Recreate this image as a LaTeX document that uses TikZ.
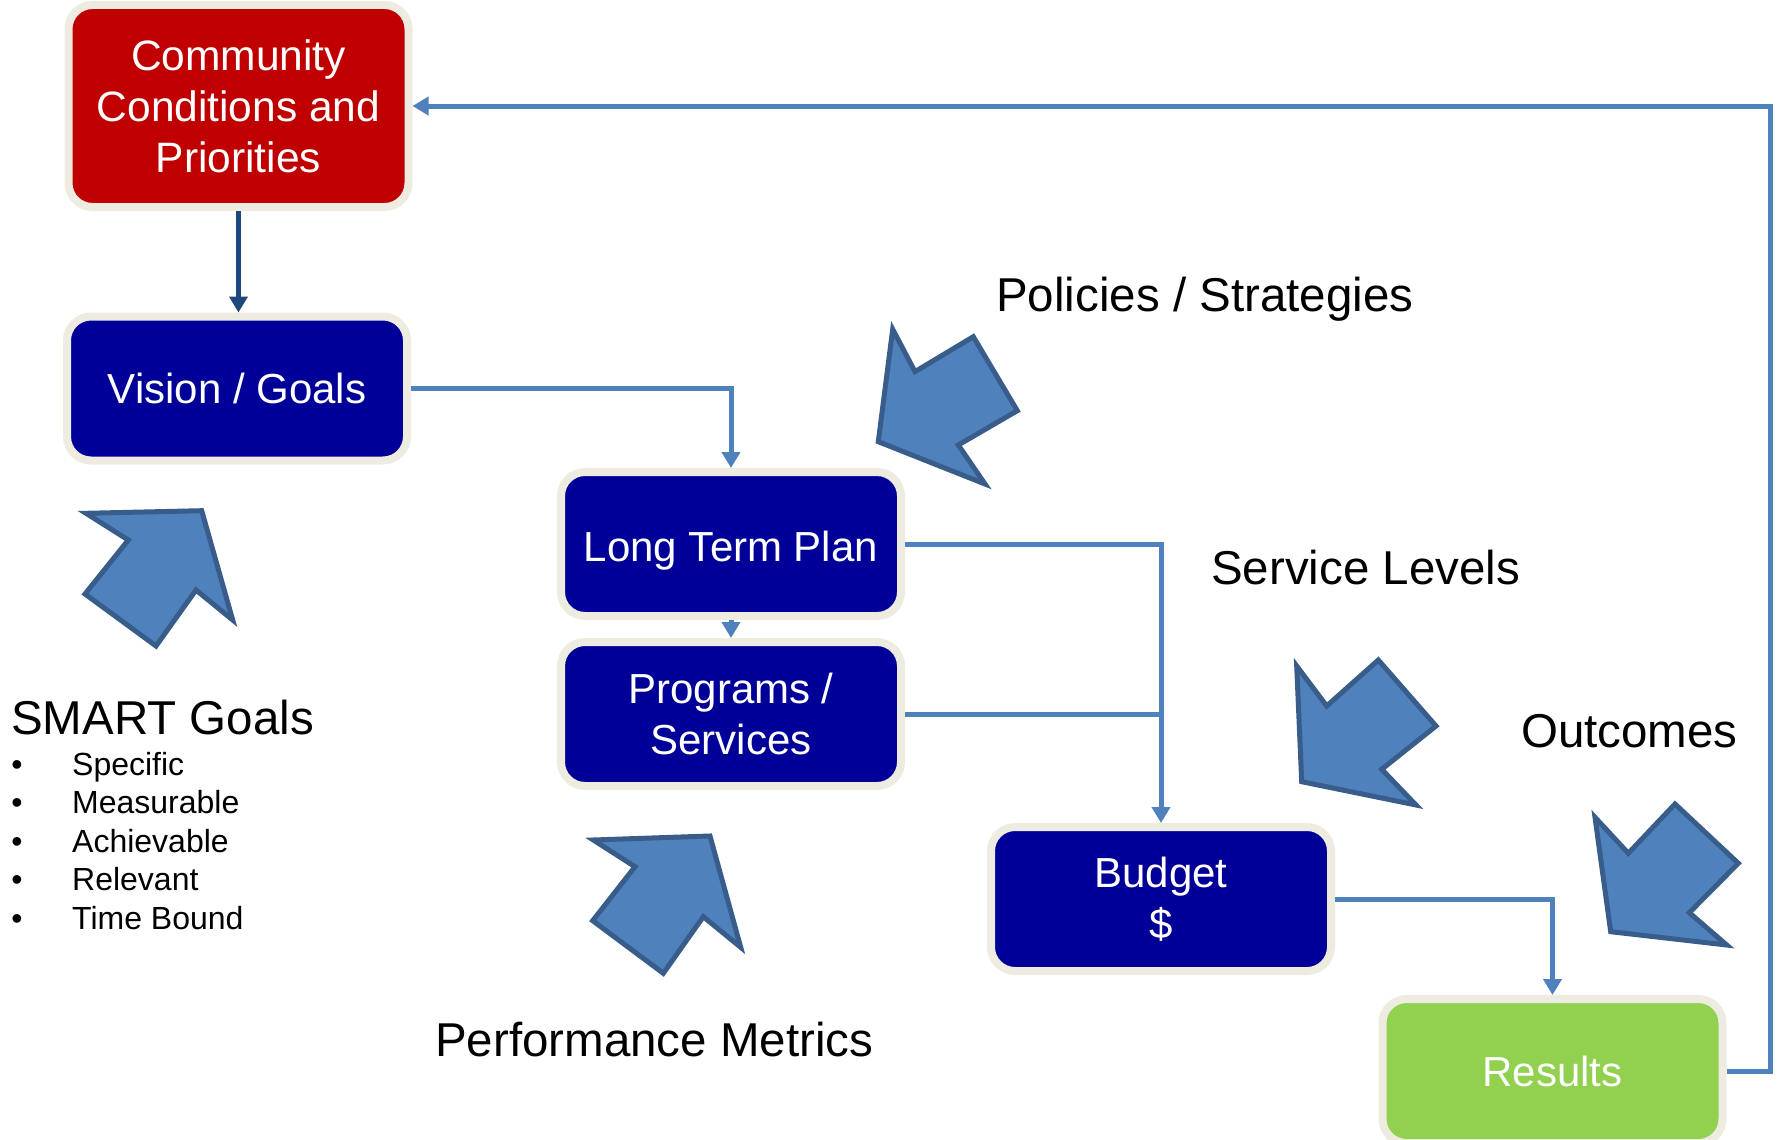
\documentclass[tikz,border=0pt]{standalone}
\usepackage{fontspec}
\setmainfont{Liberation Sans}
\usetikzlibrary{arrows.meta,positioning}

\definecolor{alarm}{HTML}{C00000}
\definecolor{navy}{HTML}{000099}
\definecolor{leaf}{HTML}{92D050}
\definecolor{rim}{HTML}{EEECE1}
\definecolor{flow}{HTML}{4F81BD}
\definecolor{deepflow}{HTML}{1F497D}
\definecolor{bigfill}{HTML}{4F81BD}
\definecolor{bigedge}{HTML}{385D8A}

\tikzset{
  stage/.style={draw=rim,line width=8pt,rounded corners=24pt,fill=navy,text=white,align=center,inner sep=0pt,minimum width=340pt,minimum height=144pt,font=\fontsize{42}{51}\selectfont},
  link/.style={draw=flow,line width=5pt},
  flowto/.style={link,-{Triangle[width=18pt,length=16pt]}},
  hint/.style={font=\fontsize{47.5}{57}\selectfont,anchor=base west,inner sep=0pt},
  item/.style={font=\fontsize{32}{38}\selectfont,inner sep=0pt},
  bigarrow/.style={fill=bigfill,draw=bigedge,line width=5pt},
}

\begin{document}
\begin{tikzpicture}[x=1pt,y=-1pt]
\path[fill=white,use as bounding box] (0,0) rectangle (1781,1140);

% boxes
\node [stage,fill=alarm,minimum height=202pt,font=\fontsize{42.5}{51}\selectfont] (comm) at (238.5,106) {Community\\Conditions and\\Priorities};
\node [stage] (vision) at (237,388.5) {Vision / Goals};
\node [stage,text depth=0pt] (ltp) at (731,544) {\raisebox{-4pt}{Long Term Plan}};
\node [stage,below=18pt of ltp] (prog) {Programs /\\Services};
\node [stage] (budget) at (1161,899) {Budget\\\$};
\node [stage,fill=leaf] (res) at (1552.5,1071) {Results};

% connectors
\draw [line width=5.5pt,draw=deepflow,-{Triangle[width=18pt,length=16pt]}] (comm.south) -- (comm.south |- vision.north);
\draw [flowto] (vision.east) -| (ltp.north);
\draw [flowto] (ltp.south) -- (prog.north);
\draw [flowto] (ltp.east) -| (budget.north);
\draw [link] (prog.east) -- (prog.east -| budget.north);
\draw [flowto] (budget.east) -| (res.north);
\coordinate (back) at (1770,1071);
\draw [flowto] (res.east) -- (back) |- (comm.east);

% labels
\node [hint] (policies) at (996,311) {Policies / Strategies};
\node [hint] (service) at (1211,584) {Service Levels};
\node [hint] (outcomes) at (1521,747) {Outcomes};
\node [hint] (metrics) at (435,1056) {Performance Metrics};
\node [hint] (smart) at (11,734) {SMART Goals};
\foreach \word [count=\i] in {Specific,Measurable,Achievable,Relevant,Time Bound} {
  \node [item,anchor=base] (dot\i) at (17,{736.4+38.6*\i}) {\textbullet};
  \node [item,anchor=base west] (item\i) at (72,{736.4+38.6*\i}) {\word};
}

% block arrows
\draw [bigarrow] (201.7,510.7) -- (232.7,620) -- (196,590) -- (156,646) -- (85,594) -- (128.3,540) -- (86,513.3) -- cycle;
\draw [bigarrow] (710,836) -- (740.7,947.3) -- (703.3,916.7) -- (663.3,973.3) -- (592.7,920.7) -- (635,866.7) -- (593.3,840) -- cycle;
\draw [bigarrow] (878.3,441.7) -- (892.7,329.3) -- (915,371.7) -- (973.3,336.7) -- (1017.3,410.7) -- (958.3,445) -- (985,484) -- cycle;
\draw [bigarrow] (1301.7,781.7) -- (1296.7,666) -- (1326.7,706) -- (1378.3,660) -- (1436,726) -- (1381.7,769.3) -- (1416,805) -- cycle;
\draw [bigarrow] (1610.7,931.7) -- (1595,817.3) -- (1628.3,853.3) -- (1675,804) -- (1738.3,863.3) -- (1689.3,912.7) -- (1726.7,945) -- cycle;
\end{tikzpicture}
\end{document}
